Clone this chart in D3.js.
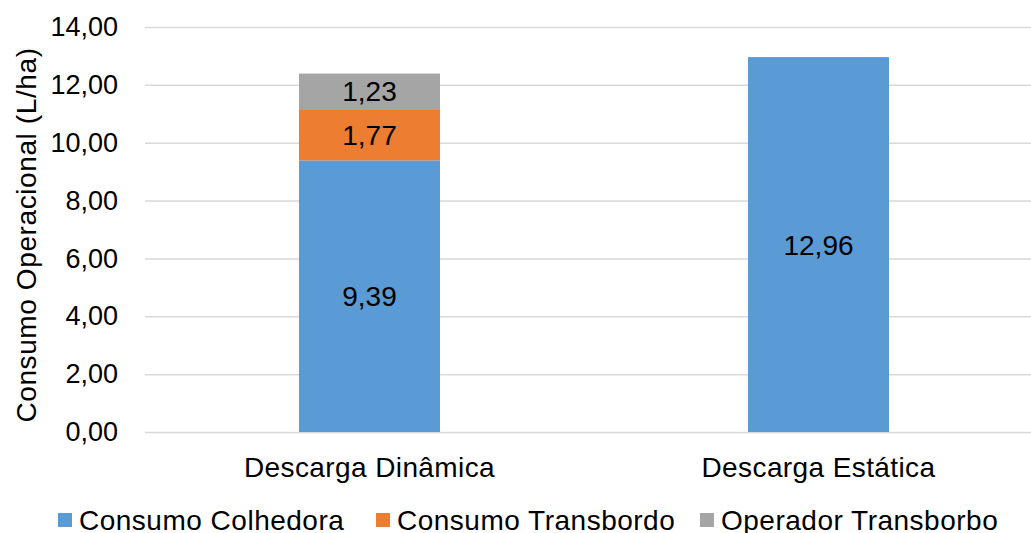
<!DOCTYPE html>
<html>
<head>
<meta charset="utf-8">
<script src="https://cdn.jsdelivr.net/npm/d3@7"></script>
<style>
  body { margin: 0; background: #fff; }
  text { font-family: "Liberation Sans", Arial, sans-serif; fill: #000; }
</style>
</head>
<body>
<div class="chart"></div>
<script>
var categories = ["Descarga Dinâmica", "Descarga Estática"];
var seriesNames = ["Consumo Colhedora", "Consumo Transbordo", "Operador Transborbo"];
var colhedora = [9.39, 12.96];
var transbordo = [1.77, 0];
var operador = [1.23, 0];
var yTicks = [0, 2, 4, 6, 8, 10, 12, 14];
var colors = ["#5b9bd5", "#ed7d31", "#a5a5a5"];

var width = 1031, height = 533;
var margin = {top: 27, left: 145, bottom: 101};

var svg = d3.select(".chart").append("svg")
    .attr("width", width)
    .attr("height", height);

var y = d3.scaleLinear()
    .domain([0, 14])
    .range([height - margin.bottom, margin.top]);

// plot runs past the right edge of the picture
var x = d3.scaleBand()
    .domain(categories)
    .range([margin.left, 1043])
    .paddingInner(0.686)
    .paddingOuter(0.343);

var fmt = function(v) { return d3.format(".2f")(v).replace(".", ","); };

// grid + y labels
var yAxis = svg.append("g")
    .attr("transform", "translate(" + margin.left + ",0)")
    .call(d3.axisLeft(y).tickValues(yTicks).tickFormat(fmt)
        .tickSizeInner(-(width - margin.left)).tickSizeOuter(0).tickPadding(27));
yAxis.select(".domain").remove();
yAxis.selectAll("line").attr("stroke", "#d9d9d9").attr("stroke-width", 1.5);
yAxis.selectAll("text").style("font-size", "27px")
    .attr("font-family", "Liberation Sans, Arial, sans-serif");

// stack
var rows = categories.map(function(c, i) {
  return {cat: c, s0: colhedora[i], s1: transbordo[i], s2: operador[i]};
});
var stack = d3.stack().keys(["s0", "s1", "s2"]);
var layers = stack(rows);

var groups = svg.append("g").selectAll("g")
    .data(layers)
    .enter().append("g")
    .attr("fill", function(d, i) { return colors[i]; });

groups.selectAll("rect")
    .data(function(d) { return d; })
    .enter().filter(function(d) { return d[1] - d[0] > 0; })
    .append("rect")
    .attr("x", function(d) { return x(d.data.cat); })
    .attr("y", function(d) { return y(d[1]); })
    .attr("width", x.bandwidth())
    .attr("height", function(d) { return y(d[0]) - y(d[1]); });

groups.selectAll("text.lbl")
    .data(function(d) { return d; })
    .enter().filter(function(d) { return d[1] - d[0] > 0; })
    .append("text")
    .attr("class", "lbl")
    .attr("x", function(d) { return x(d.data.cat) + x.bandwidth() / 2; })
    .attr("y", function(d) { return (y(d[0]) + y(d[1])) / 2; })
    .attr("dy", "0.36em")
    .attr("text-anchor", "middle")
    .style("font-size", "28px")
    .text(function(d) { return fmt(d[1] - d[0]); });

// category labels
svg.append("g").selectAll("text")
    .data(categories)
    .enter().append("text")
    .attr("x", function(d) { return x(d) + x.bandwidth() / 2; })
    .attr("y", 477)
    .attr("text-anchor", "middle")
    .style("font-size", "28px")
    .style("letter-spacing", "0.4px")
    .text(function(d) { return d; });

// y title
svg.append("text")
    .attr("transform", "translate(36,235) rotate(-90)")
    .attr("text-anchor", "middle")
    .style("font-size", "28px")
    .style("letter-spacing", "0.6px")
    .text("Consumo Operacional (L/ha)");

// legend
var legendX = [58, 376, 700];
var legend = svg.append("g").selectAll("g")
    .data(seriesNames)
    .enter().append("g")
    .attr("transform", function(d, i) { return "translate(" + legendX[i] + ",513)"; });
legend.append("rect")
    .attr("width", 14).attr("height", 14)
    .attr("fill", function(d, i) { return colors[i]; });
legend.append("text")
    .attr("x", 21)
    .attr("y", 17)
    .style("font-size", "28px")
    .style("letter-spacing", "0.5px")
    .text(function(d) { return d; });
</script>
</body>
</html>
